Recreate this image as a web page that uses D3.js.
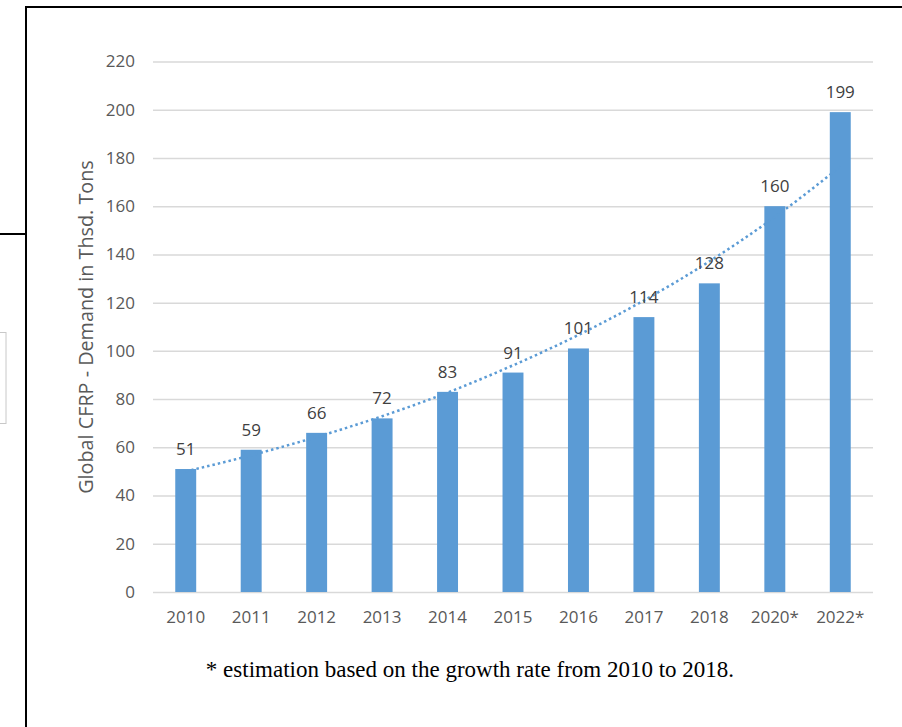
<!DOCTYPE html>
<html>
<head>
<meta charset="utf-8">
<script src="https://cdn.jsdelivr.net/npm/d3@7"></script>
<style>
  body { margin: 0; background: #fff; }
  svg { display: block; }
</style>
</head>
<body>
<svg id="chart"></svg>
<script>
// categories and values
var years = ["2010","2011","2012","2013","2014","2015","2016","2017","2018","2020*","2022*"];
var demand = [51,59,66,72,83,91,101,114,128,160,199];
// dotted exponential trend line, estimated at each category
var trend = [50,56.7,64.3,72.9,82.7,94,106.6,120.9,137.1,155.5,176.4];
var yTicks = [0,20,40,60,80,100,120,140,160,180,200,220];

var screen = {width:902, height:727};
var plot = {left:153, right:873, top:61.5, bottom:592};
var font = "'Open Sans', Lato, sans-serif";

var svg = d3.select("#chart")
    .attr("width",screen.width)
    .attr("height",screen.height);

// page frame bits around the chart
svg.append("rect")
    .attr("x",26).attr("y",7)
    .attr("width",900).attr("height",760)
    .attr("fill","none")
    .attr("stroke","#000")
    .attr("stroke-width",2);
svg.append("line")
    .attr("x1",0).attr("x2",26)
    .attr("y1",234).attr("y2",234)
    .attr("stroke","#000")
    .attr("stroke-width",2);
svg.append("rect")
    .attr("x",-2).attr("y",332.5)
    .attr("width",8).attr("height",91)
    .attr("fill","none")
    .attr("stroke","#c8c8c8")
    .attr("stroke-width",1);

var xScale = d3.scaleBand()
    .domain(years)
    .range([plot.left,plot.right])
    .paddingInner(0.68)
    .paddingOuter(0.34);

var yScale = d3.scaleLinear()
    .domain([0,220])
    .range([plot.bottom,plot.top]);

// gridlines + y labels
var yAxis = d3.axisLeft(yScale)
    .tickValues(yTicks)
    .tickSize(-(plot.right-plot.left))
    .tickPadding(18);

var gy = svg.append("g")
    .attr("transform","translate("+plot.left+",0)")
    .call(yAxis);
gy.select(".domain").remove();
gy.selectAll(".tick line")
    .attr("stroke","#d9d9d9")
    .attr("stroke-width",1.5);
gy.selectAll(".tick text")
    .attr("fill","#595959")
    .style("font-family",font)
    .style("font-size","17px");

// x labels
var xAxis = d3.axisBottom(xScale)
    .tickSize(0)
    .tickPadding(19);

var gx = svg.append("g")
    .attr("transform","translate(0,"+plot.bottom+")")
    .call(xAxis);
gx.select(".domain").remove();
gx.selectAll(".tick text")
    .attr("fill","#595959")
    .style("font-family",font)
    .style("font-size","17px");

// bars
svg.append("g")
    .selectAll("rect")
    .data(demand)
    .enter()
    .append("rect")
    .attr("x",function(d,i){ return xScale(years[i]); })
    .attr("y",function(d){ return yScale(d); })
    .attr("width",xScale.bandwidth())
    .attr("height",function(d){ return plot.bottom-yScale(d); })
    .attr("fill","#5b9bd5");

// trend line
var line = d3.line()
    .x(function(d,i){ return xScale(years[i])+xScale.bandwidth()/2; })
    .y(function(d){ return yScale(d); })
    .curve(d3.curveMonotoneX);

svg.append("path")
    .datum(trend)
    .attr("d",line)
    .attr("fill","none")
    .attr("stroke","#5b9bd5")
    .attr("stroke-width",2.5)
    .attr("stroke-dasharray","2.5,3");

// data labels
svg.append("g")
    .selectAll("text")
    .data(demand)
    .enter()
    .append("text")
    .attr("x",function(d,i){ return xScale(years[i])+xScale.bandwidth()/2; })
    .attr("y",function(d){ return yScale(d)-14; })
    .attr("text-anchor","middle")
    .attr("fill","#404040")
    .style("font-family",font)
    .style("font-size","17px")
    .text(function(d){ return d; });

// y axis title
svg.append("text")
    .attr("transform","translate(93,327) rotate(-90)")
    .attr("text-anchor","middle")
    .attr("fill","#595959")
    .style("font-family",font)
    .style("font-size","19.8px")
    .text("Global CFRP - Demand in Thsd. Tons");

// footnote
svg.append("text")
    .attr("x",470)
    .attr("y",677)
    .attr("text-anchor","middle")
    .attr("fill","#000")
    .style("font-family","'Liberation Serif', serif")
    .style("font-size","23px")
    .text("* estimation based on the growth rate from 2010 to 2018.");
</script>
</body>
</html>
